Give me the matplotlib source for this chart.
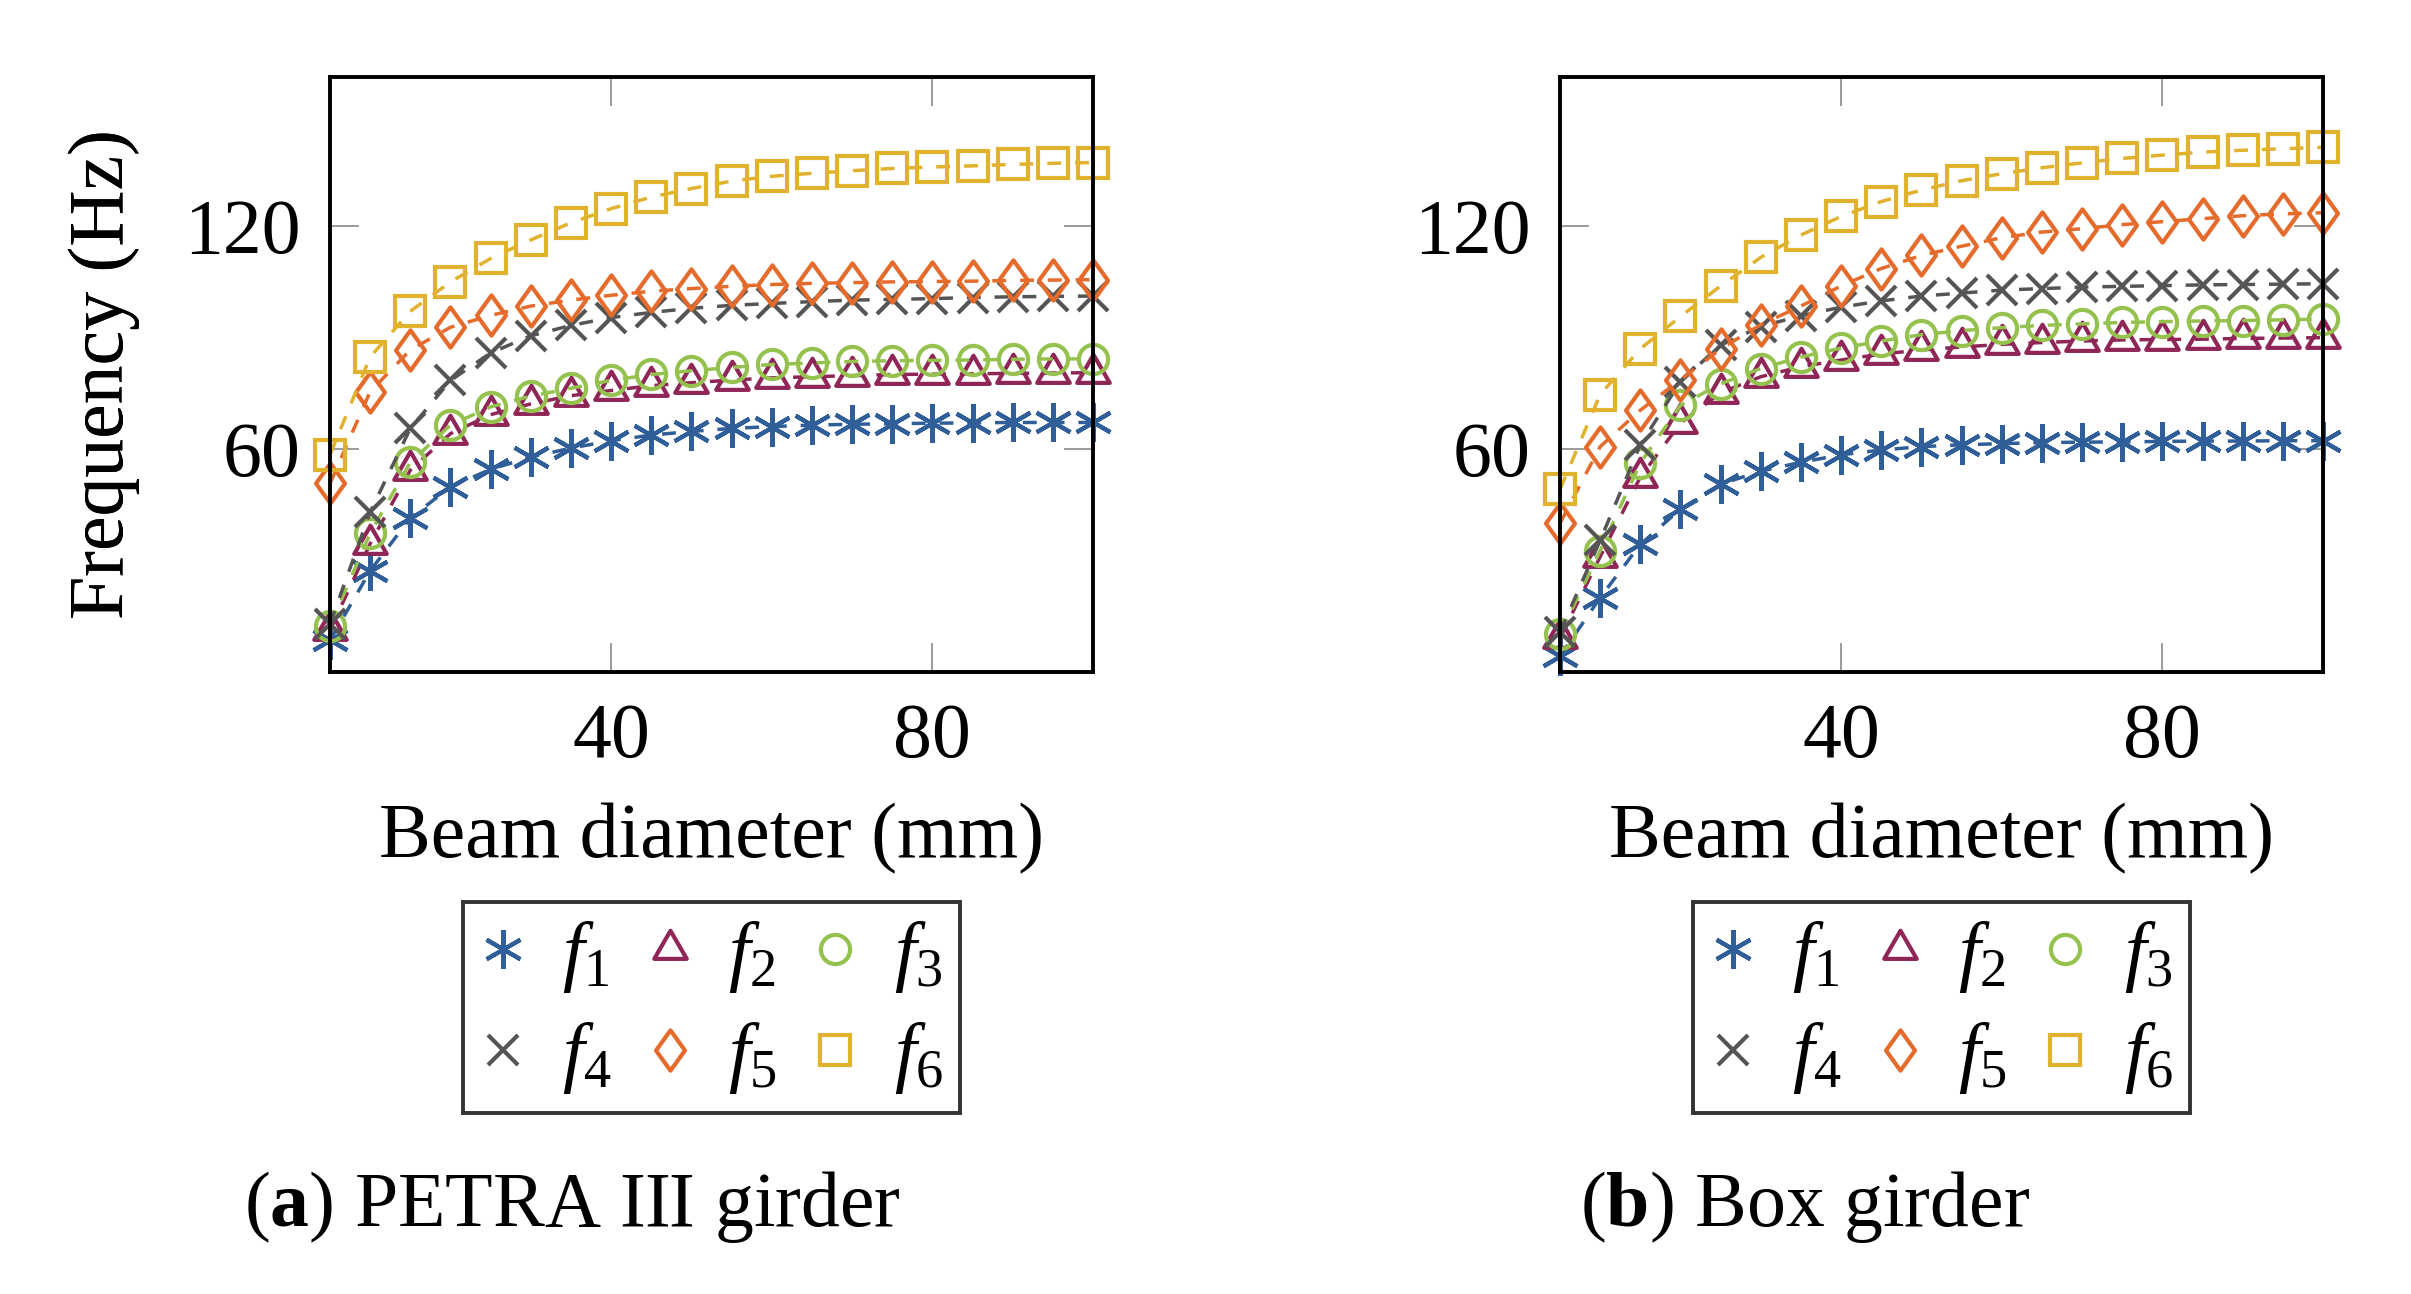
import numpy as np
import matplotlib
matplotlib.use("Agg")
import matplotlib.pyplot as plt
from matplotlib.path import Path
from matplotlib.lines import Line2D

# ---------------- data ----------------
diameter = [5, 10, 15, 20, 25, 30, 35, 40, 45, 50, 55, 60, 65, 70, 75, 80, 85, 90, 95, 100]

petra_f1 = [8.5, 27.2, 41.4, 49.8, 54.5, 57.8, 60.2, 62.2, 63.7, 64.7, 65.5, 66.0, 66.4, 66.6, 66.8, 66.9, 67.0, 67.1, 67.1, 67.1]
petra_f2 = [11.3, 34.5, 54.3, 64.1, 69.2, 72.1, 74.3, 75.7, 77.0, 77.8, 78.5, 79.1, 79.4, 79.7, 80.0, 80.1, 80.2, 80.3, 80.4, 80.5]
petra_f3 = [12.4, 37.3, 56.4, 66.4, 71.3, 74.2, 76.3, 78.4, 80.0, 81.0, 81.9, 82.7, 83.1, 83.5, 83.7, 83.8, 83.9, 84.1, 84.2, 84.2]
petra_f4 = [12.9, 43.0, 65.5, 78.4, 85.8, 90.4, 93.2, 95.3, 96.7, 97.8, 98.6, 99.1, 99.6, 100.0, 100.2, 100.4, 100.7, 100.9, 101.0, 101.1]
petra_f5 = [50.7, 75.4, 86.6, 92.7, 95.9, 98.4, 100.0, 101.3, 102.4, 103.1, 103.7, 104.2, 104.5, 104.7, 104.9, 105.0, 105.1, 105.3, 105.4, 105.5]
petra_f6 = [58.4, 84.7, 97.0, 104.9, 111.2, 116.2, 120.8, 124.6, 127.7, 130.0, 132.0, 133.3, 134.1, 134.8, 135.4, 135.8, 136.1, 136.5, 136.8, 137.0]

box_f1 = [4.2, 20.0, 34.3, 43.8, 50.5, 54.0, 56.4, 58.4, 59.7, 60.6, 61.1, 61.4, 61.7, 61.8, 61.9, 62.0, 62.1, 62.1, 62.2, 62.2]
box_f2 = [9.1, 31.0, 52.4, 66.9, 75.1, 79.4, 82.1, 83.9, 85.5, 86.6, 87.4, 88.1, 88.6, 89.0, 89.3, 89.4, 89.5, 89.7, 89.8, 89.9]
box_f3 = [10.2, 32.6, 56.2, 71.7, 77.5, 81.6, 84.7, 87.1, 89.0, 90.7, 91.8, 92.6, 93.2, 93.6, 94.0, 94.2, 94.4, 94.5, 94.7, 94.9]
box_f4 = [10.7, 35.4, 61.1, 78.1, 87.9, 92.9, 95.8, 98.1, 99.8, 101.1, 101.9, 102.7, 103.1, 103.5, 103.7, 103.9, 104.1, 104.2, 104.3, 104.4]
box_f5 = [40.0, 60.6, 70.4, 78.6, 86.9, 93.4, 98.4, 103.8, 108.5, 112.0, 114.5, 116.8, 118.3, 119.2, 120.3, 121.1, 121.9, 122.7, 123.2, 123.5]
box_f6 = [49.1, 74.6, 86.9, 95.6, 103.8, 111.5, 117.5, 122.5, 126.5, 129.6, 132.1, 134.0, 135.6, 136.9, 138.1, 139.0, 139.8, 140.3, 140.7, 141.1]

series_labels = [r"$f_1$", r"$f_2$", r"$f_3$", r"$f_4$", r"$f_5$", r"$f_6$"]
x_ticks = [40, 80]
y_ticks = [60, 120]
x_label = "Beam diameter (mm)"
y_label = "Frequency (Hz)"
captions = [r"($\mathbf{a}$) PETRA III girder", r"($\mathbf{b}$) Box girder"]

# ---------------- style ----------------
plt.rcParams["font.family"] = ["Liberation Serif", "DejaVu Serif"]
plt.rcParams["mathtext.fontset"] = "custom"
plt.rcParams["mathtext.rm"] = "Liberation Serif"
plt.rcParams["mathtext.it"] = "Liberation Serif:italic"
plt.rcParams["mathtext.bf"] = "Liberation Serif:bold"

FS = 56
colors = ["#2f5e98", "#8f2657", "#95c24e", "#555555", "#e56b2c", "#e0b22d"]

tri = Path([(0, 1), (-0.866, -0.5), (0.866, -0.5), (0, 1)],
           [Path.MOVETO, Path.LINETO, Path.LINETO, Path.CLOSEPOLY])
dia = Path([(0, 1), (0.72, 0), (0, -1), (-0.72, 0), (0, 1)],
           [Path.MOVETO, Path.LINETO, Path.LINETO, Path.LINETO, Path.CLOSEPOLY])
markers = [(6, 2, 0), tri, "o", "x", dia, "s"]
msizes = [28, 27, 21, 21.5, 29, 21]
MEW = 3.0

fig = plt.figure(figsize=(24.11, 12.94), dpi=100)
W, H = 2411.0, 1294.0

ax_specs = [
    (330, [petra_f1, petra_f2, petra_f3, petra_f4, petra_f5, petra_f6], 572),
    (1560, [box_f1, box_f2, box_f3, box_f4, box_f5, box_f6], 1805),
]
ax_w, ax_top, ax_bot = 763, 77, 672

for left, data, cap_x in ax_specs:
    ax = fig.add_axes([left / W, 1 - ax_bot / H, ax_w / W, (ax_bot - ax_top) / H])
    for i, ys in enumerate(data):
        ax.plot(diameter, ys, color=colors[i], lw=2.5, linestyle=(0, (4, 4)),
                marker=markers[i], markersize=msizes[i], markerfacecolor="none",
                markeredgecolor=colors[i], markeredgewidth=MEW, clip_on=False,
                zorder=3)
    ax.set_xlim(5, 100)
    ax.set_ylim(0, 160)
    ax.set_xticks(x_ticks)
    ax.set_yticks(y_ticks)
    ax.tick_params(direction="in", length=21, width=1.1, color="#808080",
                   top=True, right=True, labelsize=FS, pad=22)
    ax.tick_params(axis="y", pad=21)
    for s in ax.spines.values():
        s.set_linewidth(2.8)
        s.set_zorder(5)
    ax.set_xlabel(x_label, fontsize=FS)
    ax.xaxis.label.set_va("baseline")
    ax.xaxis.set_label_coords(0.5, (ax_bot - 857) / (ax_bot - ax_top))
    ax.set_ylabel(y_label, fontsize=FS)
    ax.yaxis.set_label_coords((140 - left) / ax_w, 0.5)

    handles = []
    for i in range(6):
        handles.append(Line2D([], [], linestyle="none", marker=markers[i],
                              markersize=msizes[i], markerfacecolor="none",
                              markeredgecolor=colors[i], markeredgewidth=MEW))
    order = [0, 3, 1, 4, 2, 5]
    leg = ax.legend([handles[k] for k in order], [series_labels[k] for k in order],
                    ncol=3, loc="upper center",
                    bbox_to_anchor=((left + ax_w / 2) / W, 1 - 902 / H),
                    bbox_transform=fig.transFigure, fontsize=FS,
                    frameon=True, fancybox=False, edgecolor="black",
                    handlelength=0.6, handletextpad=0.45, columnspacing=0.45,
                    borderpad=0.22, labelspacing=0.32, borderaxespad=0)
    leg.get_frame().set_linewidth(2.8)

    fig.text(cap_x / W, 1 - 1226 / H, captions[0] if left < 1000 else captions[1],
             fontsize=FS, ha="center", va="baseline")

fig.savefig("out.png", dpi=100)
